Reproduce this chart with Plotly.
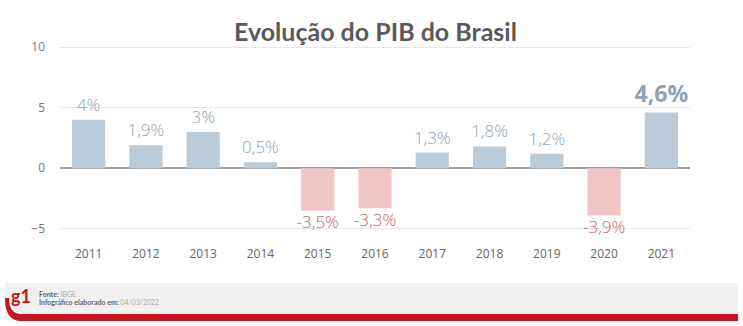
import plotly.graph_objects as go

years = ["2011", "2012", "2013", "2014", "2015", "2016", "2017", "2018", "2019", "2020", "2021"]
pib = [4.0, 1.9, 3.0, 0.5, -3.5, -3.3, 1.3, 1.8, 1.2, -3.9, 4.6]
labels = ["4%", "1,9%", "3%", "0,5%", "-3,5%", "-3,3%", "1,3%", "1,8%", "1,2%", "-3,9%", "<b>4,6%</b>"]
y_ticks = [-5, 0, 5, 10]

W, H = 743, 326
L, R, T, B = 60, 53, 35, 85

POS_BAR, NEG_BAR = "#bccbd8", "#f2c6c7"
POS_TXT, NEG_TXT = "#8ea2b3", "#c4636b"

bar_colors = [POS_BAR if v >= 0 else NEG_BAR for v in pib]
txt_colors = [POS_TXT if v >= 0 else NEG_TXT for v in pib]
txt_sizes = [17] * (len(pib) - 1) + [23]
txt_pos = ["top center" if v >= 0 else "bottom center" for v in pib]

fig = go.Figure()
fig.add_trace(go.Bar(
    x=years, y=pib, marker_color=bar_colors, marker_line_width=0, hoverinfo="skip",
))
fig.add_trace(go.Scatter(
    x=years, y=pib, mode="markers+text", text=labels, textposition=txt_pos, cliponaxis=False,
    marker=dict(size=6, color="rgba(0,0,0,0)"),
    textfont=dict(color=txt_colors, size=txt_sizes, family="Open Sans", weight=300),
))

def py(p):
    # pixel y -> paper y
    return (H - B - p) / (H - T - B)

def px(p):
    return (p - L) / (W - L - R)

shapes = [
    dict(type="rect", xref="paper", yref="paper", x0=px(5), x1=px(738), y0=py(318), y1=py(283),
         fillcolor="#f1f1f1", line_width=0, layer="below"),
    dict(type="path", xref="paper", yref="paper",
         path=f"M {px(5)} {py(298)} Q {px(5)} {py(320)} {px(20)} {py(321)} L {px(738)} {py(321)} L {px(738)} {py(314)} L {px(20)} {py(314)} Q {px(9)} {py(313)} {px(9)} {py(298)} Z",
         fillcolor="#c4161c", line_width=0),
]

annotations = [
    dict(text="Evolução do PIB do Brasil", xref="paper", yref="paper", x=px(375), y=py(31),
         showarrow=False, font=dict(size=25, color="#5a5a5a", family="Lato", weight="bold"),
         xanchor="center", yanchor="middle"),
    dict(text="<b>g1</b>", xref="paper", yref="paper", x=px(9), y=py(296), showarrow=False,
         font=dict(size=18, color="#c4161c", family="Lato"), xanchor="left", yanchor="middle"),
    dict(text="<b>Fonte:</b> <span style='color:#aaa'>IBGE</span>", xref="paper", yref="paper",
         x=px(37), y=py(294), showarrow=False, font=dict(size=7, color="#666", family="Lato"),
         xanchor="left", yanchor="middle"),
    dict(text="<b>Infográfico elaborado em:</b> <span style='color:#aaa'>04/03/2022</span>", xref="paper",
         yref="paper", x=px(37), y=py(302), showarrow=False,
         font=dict(size=7, color="#666", family="Lato"), xanchor="left", yanchor="middle"),
]

fig.update_layout(
    width=W, height=H, margin=dict(l=L, r=R, t=T, b=B),
    paper_bgcolor="white", plot_bgcolor="white",
    bargap=0.42, showlegend=False,
    shapes=shapes, annotations=annotations,
    font=dict(family="Open Sans", color="#666"),
    xaxis=dict(range=[-0.5, len(years) - 0.5], showgrid=False, showline=False, ticks="",
               tickfont=dict(size=12, color="#666"), ticklabelstandoff=4),
    yaxis=dict(range=[-6, 11], tickvals=y_ticks, showgrid=True, gridcolor="#e8e8e8", gridwidth=1,
               zeroline=True, zerolinecolor="#a0a0a0", zerolinewidth=1.5,
               tickfont=dict(size=12, color="#777"), ticklabelstandoff=14),
)

fig.write_html("out.html")
